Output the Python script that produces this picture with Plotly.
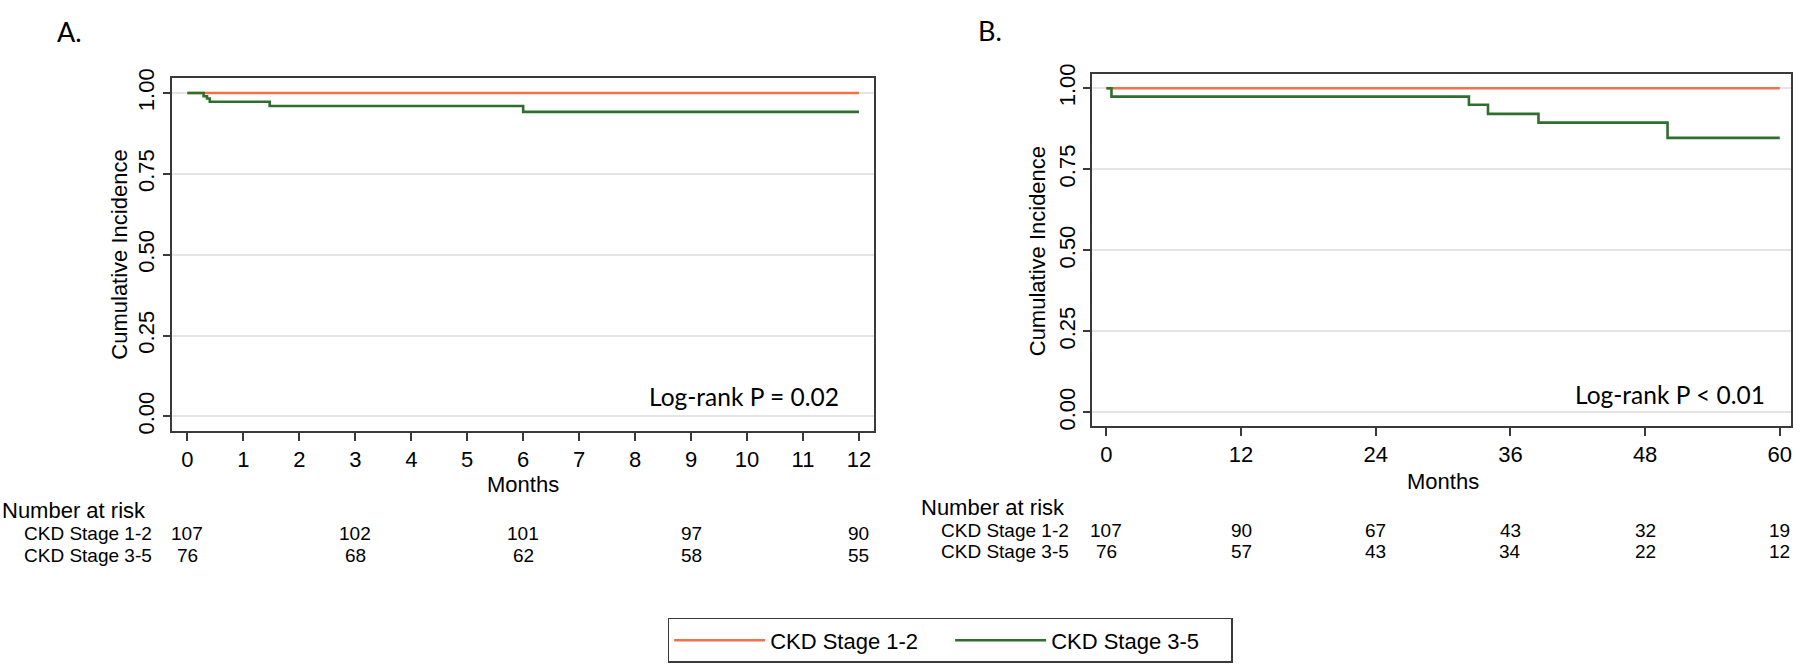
import plotly.graph_objects as go

# ---------------- data ----------------
series_names = ["CKD Stage 1-2", "CKD Stage 3-5"]

# Panel A (12 months)
a_t_stage12 = [0, 12]
a_v_stage12 = [1.0, 1.0]
a_t_stage35 = [0, 0.29, 0.35, 0.40, 1.47, 6.0, 12.0]
a_v_stage35 = [1.0, 0.990, 0.983, 0.973, 0.960, 0.942, 0.942]

# Panel B (60 months)
b_t_stage12 = [0, 60]
b_v_stage12 = [1.0, 1.0]
b_t_stage35 = [0, 0.45, 32.3, 34.0, 38.5, 50.0, 60.0]
b_v_stage35 = [1.0, 0.974, 0.949, 0.921, 0.894, 0.847, 0.847]

# Number at risk
a_risk_months = [0, 3, 6, 9, 12]
a_risk_stage12 = [107, 102, 101, 97, 90]
a_risk_stage35 = [76, 68, 62, 58, 55]
b_risk_months = [0, 12, 24, 36, 48, 60]
b_risk_stage12 = [107, 90, 67, 43, 32, 19]
b_risk_stage35 = [76, 57, 43, 34, 22, 12]

a_xticks = list(range(0, 13))
b_xticks = [0, 12, 24, 36, 48, 60]
y_ticks = [0, 0.25, 0.5, 0.75, 1.0]
y_ticktext = ["0.00", "0.25", "0.50", "0.75", "1.00"]

pvals = ["Log-rank P = 0.02", "Log-rank P < 0.01"]
panel_labels = ["A.", "B."]

# ---------------- style ----------------
W, H = 1800, 667
ORANGE = "#F2704A"
GREEN = "#2E6F2E"
FRAME = "#3a3a3a"
GRID = "#e4e4e4"
SANS = "Liberation Sans, Arial, Helvetica, sans-serif"
CAL = "Lato, Carlito, Calibri, sans-serif"


def X(px):
    return px / W


def Y(py):
    return 1 - py / H


fig = go.Figure()
fig.add_trace(go.Scatter(x=a_t_stage12, y=a_v_stage12, mode="lines", line=dict(color=ORANGE, width=2.6, shape="hv"),
                         name=series_names[0], xaxis="x", yaxis="y", legendrank=1))
fig.add_trace(go.Scatter(x=a_t_stage35, y=a_v_stage35, mode="lines", line=dict(color=GREEN, width=2.6, shape="hv"),
                         name=series_names[1], xaxis="x", yaxis="y", legendrank=2))
fig.add_trace(go.Scatter(x=b_t_stage12, y=b_v_stage12, mode="lines", line=dict(color=ORANGE, width=2.6, shape="hv"),
                         name=series_names[0], xaxis="x2", yaxis="y2", showlegend=False))
fig.add_trace(go.Scatter(x=b_t_stage35, y=b_v_stage35, mode="lines", line=dict(color=GREEN, width=2.6, shape="hv"),
                         name=series_names[1], xaxis="x2", yaxis="y2", showlegend=False))

common_x = dict(ticks="outside", ticklen=8, tickwidth=1.5, tickcolor=FRAME, showline=True, mirror=True,
                linecolor=FRAME, linewidth=2, showgrid=False, zeroline=False,
                tickfont=dict(family=SANS, size=22, color="black"))
common_y = dict(ticks="outside", ticklen=7, tickwidth=1.5, tickcolor=FRAME, showline=True, mirror=True,
                linecolor=FRAME, linewidth=2, showgrid=True, gridcolor=GRID, gridwidth=2, zeroline=False,
                tickvals=y_ticks, ticktext=y_ticktext, tickangle=-90,
                tickfont=dict(family=SANS, size=22, color="black"))

annotations = []
# axis titles
for cx, cy in [(120, 250), (1038, 246)]:
    annotations.append(dict(x=X(cx), y=Y(cy), xref="paper", yref="paper", text="Cumulative Incidence",
                            textangle=-90, showarrow=False, xanchor="center", yanchor="middle",
                            font=dict(family=SANS, size=22, color="black")))
for cx, cy in [(523, 485), (1444, 482)]:
    annotations.append(dict(x=X(cx), y=Y(cy), xref="paper", yref="paper", text="Months",
                            showarrow=False, xanchor="center", yanchor="middle",
                            font=dict(family=SANS, size=22, color="black")))
# panel labels
for lbl, (cx, cy) in zip(panel_labels, [(55, 22), (977, 21)]):
    annotations.append(dict(x=X(cx), y=Y(cy), xref="paper", yref="paper", text=lbl,
                            showarrow=False, xanchor="left", yanchor="middle",
                            font=dict(family=CAL, size=27, color="black")))
# p-values
for txt, (rx, cy) in zip(pvals, [(841, 395), (1768, 393)]):
    annotations.append(dict(x=X(rx), y=Y(cy), xref="paper", yref="paper", text=txt,
                            showarrow=False, xanchor="right", yanchor="middle",
                            font=dict(family=CAL, size=24.5, color="black")))

# number at risk tables
tables = [
    dict(xref="x", months=a_risk_months, r12=a_risk_stage12, r35=a_risk_stage35,
         head=(0, 511), lab_right=154, rows=(535, 557)),
    dict(xref="x2", months=b_risk_months, r12=b_risk_stage12, r35=b_risk_stage35,
         head=(920, 508), lab_right=1072, rows=(532, 553)),
]
for tb in tables:
    annotations.append(dict(x=X(tb["head"][0]), y=Y(tb["head"][1]), xref="paper", yref="paper",
                            text="Number at risk", showarrow=False, xanchor="left", yanchor="middle",
                            font=dict(family=SANS, size=22, color="black")))
    for name, vals, ry in zip(series_names, [tb["r12"], tb["r35"]], tb["rows"]):
        annotations.append(dict(x=X(tb["lab_right"]), y=Y(ry), xref="paper", yref="paper", text=name,
                                showarrow=False, xanchor="right", yanchor="middle",
                                font=dict(family=SANS, size=19, color="black")))
        for m, v in zip(tb["months"], vals):
            annotations.append(dict(x=m, y=Y(ry), xref=tb["xref"], yref="paper", text=str(v),
                                    showarrow=False, xanchor="center", yanchor="middle",
                                    font=dict(family=SANS, size=19, color="black")))

fig.update_layout(
    width=W, height=H,
    margin=dict(l=0, r=0, t=0, b=0),
    paper_bgcolor="white", plot_bgcolor="white",
    xaxis=dict(domain=[X(172), X(874)], range=[-0.277, 12.26], tickvals=a_xticks, anchor="y", **common_x),
    yaxis=dict(domain=[Y(430), Y(69)], range=[-0.045, 1.048], anchor="x", **common_y),
    xaxis2=dict(domain=[X(1093), X(1792)], range=[-1.25, 61.0], tickvals=b_xticks, anchor="y2", **common_x),
    yaxis2=dict(domain=[Y(425), Y(65)], range=[-0.042, 1.045], anchor="x2", **common_y),
    showlegend=True,
    legend=dict(orientation="h", x=X(668), xanchor="left", y=Y(621), yanchor="top",
                bordercolor=FRAME, borderwidth=1.5, bgcolor="white", itemwidth=91,
                entrywidth=175, entrywidthmode="pixels",
                font=dict(family=SANS, size=22, color="black")),
    annotations=annotations,
)

fig.write_html("out.html", config={"displayModeBar": False},
               post_script="document.body.style.margin='0';document.body.style.overflow='hidden';")
